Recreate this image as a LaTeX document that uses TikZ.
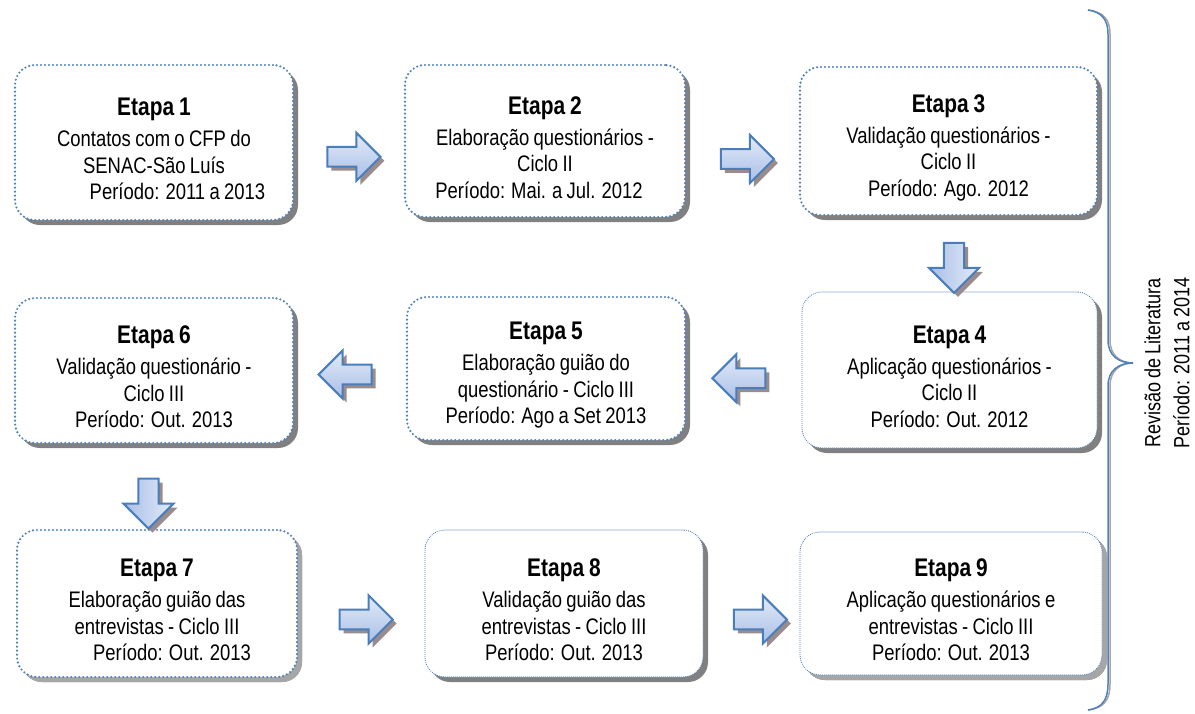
\documentclass[tikz,border=0pt]{standalone}
\usepackage{fontspec}
\setmainfont{Liberation Sans}[FakeStretch=0.82, WordSpace=0.85]
\usetikzlibrary{shapes.arrows,shadows,calc}

\definecolor{framebl}{HTML}{4F81BD}
\definecolor{arrowline}{HTML}{4A7EBB}
\definecolor{shadegray}{HTML}{808080}
\definecolor{lightshade}{HTML}{A6A6A6}
\definecolor{arrowshadow}{HTML}{9A8C8C}
\definecolor{arrowtop}{HTML}{E2EAF8}
\definecolor{arrowbot}{HTML}{A9BFE6}

\newcommand\stagehead[1]{\rule{0pt}{31pt}{\fontsize{25.5}{26.5}\selectfont\bfseries Etapa #1}}

\tikzset{
  stage/.style={draw=framebl, line width=2.4pt, line cap=round,
    dash pattern=on 0pt off 4pt, fill=white, rounded corners=20pt,
    inner sep=0pt, align=center, font=\fontsize{22.5}{26.5}\selectfont,
    drop shadow={shadow xshift=5pt, shadow yshift=-5pt, fill=shadegray, opacity=1}},
  finestage/.style={stage, line width=1.2pt, dash pattern=on 0pt off 2pt},
  lightstage/.style={drop shadow={shadow xshift=5pt, shadow yshift=-5pt, fill=lightshade, opacity=1}},
  blockarrow/.style={single arrow, draw=arrowline, line width=2pt,
    inner sep=8pt, single arrow head extend=13pt,
    minimum height=53pt, minimum width=48pt,
    drop shadow={shadow xshift=4pt, shadow yshift=-4pt, fill=arrowshadow, opacity=1}},
  rarrow/.style={blockarrow, top color=arrowtop, bottom color=arrowbot},
  larrow/.style={blockarrow, shape border rotate=180, top color=arrowtop, bottom color=arrowbot},
  darrow/.style={blockarrow, shape border rotate=270, left color=arrowbot,
    right color=arrowtop, minimum height=50pt, minimum width=50pt},
  bracestroke/.style={draw=framebl, line width=1.5pt},
  braceshade/.style={draw=lightshade, line width=1.5pt},
}

\begin{document}
\begin{tikzpicture}[x=1pt, y=-1pt]
\useasboundingbox (0,0) rectangle (1195,713);

% stage boxes
\node[stage, minimum width=278pt, minimum height=155pt] (e1) at (154,142.5)
  {\stagehead{1}\\[4.5pt]Contatos com o CFP do\\SENAC-São Luís\\\hspace*{47pt}Período: 2011 a 2013};
\node[stage, minimum width=280pt, minimum height=152pt] (e2) at (545,141)
  {\stagehead{2}\\[4.5pt]Elaboração questionários -\\Ciclo II\\Período: Mai. a Jul. 2012\hspace*{12pt}};
\node[stage, minimum width=297pt, minimum height=148pt] (e3) at (948.5,141)
  {\stagehead{3}\\[4.5pt]Validação questionários -\\Ciclo II\\Período: Ago. 2012};
\node[finestage, minimum width=295pt, minimum height=156pt] (e4) at (949.5,370)
  {\stagehead{4}\\[4.5pt]Aplicação questionários -\\Ciclo II\\Período: Out. 2012};
\node[stage, minimum width=278pt, minimum height=143pt] (e5) at (546,368.5)
  {\stagehead{5}\\[4.5pt]Elaboração guião do\\questionário - Ciclo III\\Período: Ago a Set 2013};
\node[stage, minimum width=278pt, minimum height=145pt] (e6) at (154,370.5)
  {\stagehead{6}\\[4.5pt]Validação questionário -\\Ciclo III\\Período: Out. 2013};
\node[stage, lightstage, minimum width=280pt, minimum height=147pt] (e7) at (157,603.5)
  {\stagehead{7}\\[4.5pt]Elaboração guião das\\entrevistas - Ciclo III\\\hspace*{30pt}Período: Out. 2013};
\node[finestage, minimum width=278pt, minimum height=147pt] (e8) at (564,603.5)
  {\stagehead{8}\\[4.5pt]Validação guião das\\entrevistas - Ciclo III\\Período: Out. 2013};
\node[finestage, lightstage, minimum width=302pt, minimum height=143pt] (e9) at (951,603.5)
  {\stagehead{9}\\[4.5pt]Aplicação questionários e\\entrevistas - Ciclo III\\Período: Out. 2013};

% block arrows between the stages
\node[rarrow] (a12) at ($(e1.east)!.5!(e2.west)+(0,15)$) {};
\node[rarrow] (a23) at ($(e2.east)!.5!(e3.west)+(0,18)$) {};
\node[darrow] (a34) at ($(e3.south)!.5!(e4.north)+(5,9)$) {};
\node[larrow] (a45) at ($(e4.west)!.5!(e5.east)+(0,9)$) {};
\node[larrow] (a56) at ($(e5.west)!.5!(e6.east)+(0,5)$) {};
\node[darrow] (a67) at ($(e6.south)!.5!(e7.north)+(-7,12)$) {};
\node[rarrow] (a78) at ($(e7.east)!.5!(e8.west)+(0,16)$) {};
\node[rarrow] (a89) at ($(e8.east)!.5!(e9.west)+(4,16)$) {};

% curly brace spanning all stages
\coordinate (bt) at (1088,10);
\coordinate (bm) at (1133,363);
\coordinate (bb) at (1088,710);
\foreach \dx/\sty in {2/braceshade, 0/bracestroke}{
  \draw[\sty, xshift=\dx pt] (bt) .. controls (1102,12) and (1108,20) .. (1108,34)
    -- (1108,340) .. controls (1108,356) and (1119,363) .. (bm)
    .. controls (1119,363) and (1108,370) .. (1108,386)
    -- (1108,684) .. controls (1108,700) and (1102,708) .. (bb);
}

\node[rotate=90, align=center, font=\fontsize{22}{29}\selectfont] (lit) at (1167,363)
  {Revisão de Literatura\\Período: 2011 a 2014};
\end{tikzpicture}
\end{document}
